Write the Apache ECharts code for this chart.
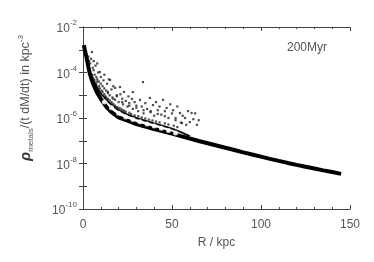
<!DOCTYPE html>
<html><head><meta charset="utf-8">
<script src="https://cdn.jsdelivr.net/npm/echarts@6/dist/echarts.min.js"></script>
<style>html,body{margin:0;padding:0;background:#fff}#c{width:374px;height:262px}</style>
</head><body><div id="c"></div>
<script>
// Main dense band (lower curve)
const curveR = [0.5,1,2,3,4,5,6,8,10,13,16,20,25,30,35,40,45,50,55,60,65,70,75,80,85,90,95,100,105,110,115,120,125,130,135,140,145];
const curveRho = [1.6e-3,1.0e-3,4.5e-4,1.8e-4,8e-5,4.5e-5,2.8e-5,1.26e-5,7e-6,3.2e-6,1.8e-6,1.07e-6,7.6e-7,5.4e-7,4.2e-7,3.3e-7,2.6e-7,2.05e-7,1.6e-7,1.25e-7,9.8e-8,7.8e-8,6.2e-8,4.9e-8,3.9e-8,3.1e-8,2.5e-8,2.0e-8,1.6e-8,1.3e-8,1.06e-8,8.7e-9,7.2e-9,6.0e-9,5.0e-9,4.2e-9,3.5e-9];
// Upper edge of the band
const upperR = [6,8,10,12,15,20,25,30,35,40,45,50,55,60];
const upperRho = [4e-5,2.2e-5,1.2e-5,8e-6,4.5e-6,2.2e-6,1.4e-6,1.0e-6,7.6e-7,5.8e-7,4.5e-7,3.4e-7,2.4e-7,1.6e-7];
// Open symbols inside the band
const openR = [12,16,20,24,28,32,36,40,44,48,52];
const openRho = [5e-6,2.8e-6,1.6e-6,1.1e-6,8.5e-7,6.8e-7,5.5e-7,4.4e-7,3.5e-7,2.8e-7,2.2e-7];
// Scattered particles above the band
const scatR = [3,3.5,4,4.5,5,5.5,6,6,6.5,7,7.5,8,8,8.5,9,9.5,10,10,11,11.5,12,12,13,13.5,14,14.5,15,15.2,16,16.5,17,18,18,19,20,20.8,21,22,22.5,23,24,25,25.5,26,27.5,28,28,29,30,31,32,33,33.7,34,35,36,37.6,38,39.3,40,41,42,43,44,45,46,47,48,49,50,50.6,52,53,54.5,55,55.6,56,57.3,58,59,60,61,62,63,64,65,
  5,5.5,6,6.5,7,7.5,8,9,9.5,10.5,11,12,12.5,13,14,15,16,17,18,19,20,21,22,23,24,26,27,29,31,33,35,37,39,41,43,46,48,51,53,26,30,34,38,42,46,52,17,22,14,19];
const scatRho = [5e-4,3.2e-4,2.5e-4,4e-4,8e-4,1.6e-4,1.26e-4,3.2e-4,8e-5,2e-4,6.3e-5,2.5e-4,5e-5,1e-4,4e-5,1.05e-4,3.2e-5,6.3e-5,2.5e-5,4.5e-5,2e-5,8e-5,1.6e-5,3.2e-5,1.26e-5,5e-5,1e-5,4.7e-5,1.8e-5,8e-6,2.5e-5,2.1e-5,6.3e-6,1e-5,5e-6,2.3e-5,1.1e-5,7e-6,4e-6,1.4e-5,5.6e-6,3.2e-6,8.9e-6,4.5e-6,6.9e-6,1.38e-5,2.5e-6,5e-6,3.5e-6,2e-6,6.3e-6,3.2e-6,3.8e-5,1.6e-6,4.5e-6,2.5e-6,7.6e-6,1.8e-6,3.7e-6,1.26e-6,5e-6,2.2e-6,3.2e-6,1.4e-6,6.3e-6,2e-6,2.75e-6,1e-6,4e-6,1.6e-6,2.2e-6,8e-7,3.2e-6,1.66e-6,6.3e-7,6e-7,1.26e-6,1e-6,5e-7,2e-6,6.6e-7,1.66e-6,8.9e-7,1.6e-6,5e-7,8e-7,
  8e-5,6e-5,5e-5,4.5e-5,3.5e-5,3e-5,4e-5,2.5e-5,2e-5,1.6e-5,1.4e-5,1.1e-5,9e-6,8e-6,7e-6,6e-6,5e-6,4.2e-6,3.5e-6,3e-6,2.8e-6,2.6e-6,2.3e-6,2.1e-6,1.9e-6,1.7e-6,1.5e-6,1.3e-6,1.2e-6,1.05e-6,9.5e-7,8.5e-7,7.8e-7,7e-7,6.4e-7,5.8e-7,5.2e-7,4.6e-7,4e-7,3.5e-6,2.8e-6,2.2e-6,2e-6,1.5e-6,1.2e-6,1e-6,7e-6,5e-6,1.4e-5,9e-6];
const xTicks = [0,50,100,150];
const yExpLabels = [-10,-8,-6,-4,-2];

const zip = (a,b) => a.map((v,i)=>[v,b[i]]);
const gray = '#555';
const font = 'Liberation Sans';
const chart = echarts.init(document.getElementById('c'), null, {renderer:'canvas'});
const axisLine = {show:true, lineStyle:{color:'#444', width:1}};
const tick = {show:true, inside:true, length:4, lineStyle:{color:'#444'}};
chart.setOption({
  animation:false,
  grid:{left:83, right:24, top:27, bottom:53},
  xAxis:[{
    type:'value', min:0, max:150, interval:50, position:'bottom',
    axisLine, splitLine:{show:false}, axisTick:tick,
    minorTick:{show:true, splitNumber:5, length:2, lineStyle:{color:'#444'}},
    axisLabel:{color:gray, fontFamily:font, fontSize:12, margin:10,
      formatter:v=> xTicks.includes(v)? String(v):''},
    name:'R / kpc', nameLocation:'middle', nameGap:28,
    nameTextStyle:{color:gray, fontFamily:font, fontSize:12}
  },{
    type:'value', min:0, max:150, interval:50, position:'top',
    axisLine, splitLine:{show:false}, axisTick:tick,
    minorTick:{show:true, splitNumber:5, length:2, lineStyle:{color:'#444'}},
    axisLabel:{show:false}
  }],
  yAxis:[{
    type:'log', logBase:10, min:1e-10, max:1e-2, interval:1, position:'left',
    axisLine, splitLine:{show:false}, axisTick:tick,
    axisLabel:{color:gray, fontFamily:font, margin:6,
      formatter:v=>{const e=Math.round(Math.log10(v)); return yExpLabels.includes(e)?'{a|10}{b|'+e+'}':'';},
      rich:{a:{fontSize:12, color:gray, fontFamily:font, verticalAlign:'bottom', lineHeight:16},
            b:{fontSize:8, color:gray, fontFamily:font, verticalAlign:'top', lineHeight:16}}}
  },{
    type:'log', logBase:10, min:1e-10, max:1e-2, interval:1, position:'right',
    axisLine, splitLine:{show:false}, axisTick:tick,
    axisLabel:{show:false}
  }],
  series:[
    {type:'scatter', data:zip(scatR,scatRho), symbol:'rect', symbolSize:2.2, itemStyle:{color:'#222'}, z:2},
    {type:'line', data:zip(upperR,upperRho), symbol:'none',
      lineStyle:{color:'#111', width:2}, z:3},
    {type:'line', data:zip(curveR,curveRho), symbol:'none',
      lineStyle:{color:'#000', width:4}, z:4},
    {type:'scatter', data:zip(openR,openRho), symbol:'emptyCircle', symbolSize:3,
      itemStyle:{color:'#fff', borderColor:'#111', borderWidth:0.8}, z:5}
  ],
  graphic:[
    {type:'text', left:287, top:42, style:{text:'200Myr', fill:gray, font:'12px "Liberation Sans"'}},
    {type:'text', x:26, y:98, rotation:Math.PI/2,
      style:{text:'{r|ρ}{s|metals}{n|/(t dM/dt) in kpc}{p|-3}', align:'center', verticalAlign:'middle',
        rich:{r:{fontSize:15, fontStyle:'italic', fontWeight:'bold', fill:'#333', fontFamily:font, verticalAlign:'middle', lineHeight:18},
              s:{fontSize:8, fill:gray, fontFamily:font, verticalAlign:'bottom', lineHeight:18},
              n:{fontSize:12.5, fill:gray, fontFamily:font, verticalAlign:'middle', lineHeight:18},
              p:{fontSize:8, fill:gray, fontFamily:font, verticalAlign:'top', lineHeight:18}}}}
  ]
});
</script></body></html>
